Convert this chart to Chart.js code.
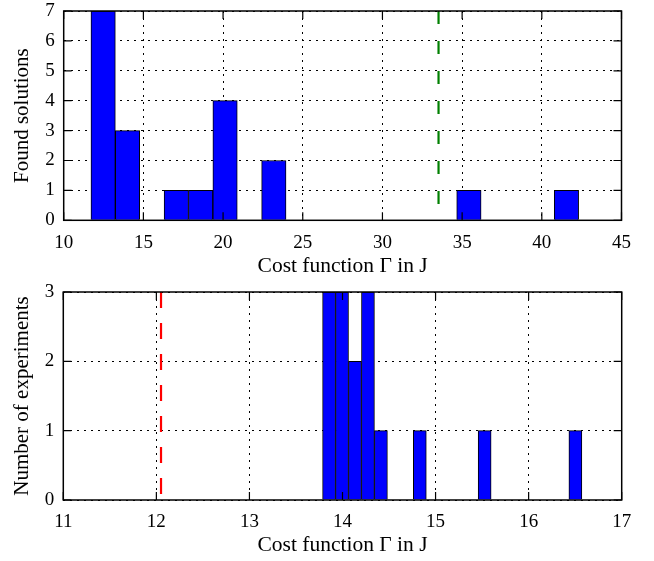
<!DOCTYPE html>
<html>
<head>
<meta charset="utf-8">
<script src="https://cdn.jsdelivr.net/npm/chart.js@4"></script>
<style>
  html, body { margin: 0; padding: 0; background: #fff; }
  #wrap { position: relative; width: 654px; height: 561px; }
  canvas { position: absolute; left: 0; }
  #top { top: 0; }
  #bottom { top: 280px; }
</style>
</head>
<body>
<div id="wrap">
  <canvas id="top" width="654" height="280"></canvas>
  <canvas id="bottom" width="654" height="281"></canvas>
</div>
<script>
// Upper histogram: found solutions per cost bin
const solBinStart = 11.71;
const solBinWidth = 1.53;
const solCounts = [7, 3, 0, 1, 1, 4, 0, 2, 0, 0, 0, 0, 0, 0, 0, 1, 0, 0, 0, 1];
const solXTicks = [10, 15, 20, 25, 30, 35, 40, 45];
const solYTicks = [0, 1, 2, 3, 4, 5, 6, 7];
const solRefLine = 33.52;   // green dashed marker

// Lower histogram: number of experiments per cost bin
const expBinStart = 13.786;
const expBinWidth = 0.1393;
const expCounts = [3, 3, 2, 3, 1, 0, 0, 1, 0, 0, 0, 0, 1, 0, 0, 0, 0, 0, 0, 1];
const expXTicks = [11, 12, 13, 14, 15, 16, 17];
const expYTicks = [0, 1, 2, 3];
const expRefLine = 12.05;   // red dashed marker

const xTitle = 'Cost function \u0393 in J';
const FONT = '"Liberation Serif", "DejaVu Serif", serif';
const TICK = 8;

Chart.defaults.font.family = FONT;
Chart.defaults.color = '#000';

// inward tick marks on all four sides + a solid frame round the plot
const frameTicks = {
  id: 'frameTicks',
  afterDraw(chart) {
    const { ctx, chartArea: a, scales: { x, y } } = chart;
    ctx.save();
    ctx.strokeStyle = '#000';
    ctx.lineWidth = 1.2;
    ctx.beginPath();
    x.ticks.forEach(t => {
      const px = x.getPixelForValue(t.value);
      ctx.moveTo(px, a.bottom); ctx.lineTo(px, a.bottom - TICK);
      ctx.moveTo(px, a.top); ctx.lineTo(px, a.top + TICK);
    });
    y.ticks.forEach(t => {
      const py = y.getPixelForValue(t.value);
      ctx.moveTo(a.left, py); ctx.lineTo(a.left + TICK, py);
      ctx.moveTo(a.right, py); ctx.lineTo(a.right - TICK, py);
    });
    ctx.stroke();
    ctx.lineWidth = 1.5;
    ctx.strokeRect(a.left, a.top, a.right - a.left, a.bottom - a.top);
    ctx.restore();
  }
};

// keep tick-label overhang from pushing the plot area around
function noOverhang(s) {
  s.paddingTop = 0; s.paddingBottom = 0;
  s.paddingLeft = 0; s.paddingRight = 0;
}

function makeHist(id, cfg) {
  const bars = cfg.counts.map((c, i) => ({ x: cfg.binStart + (i + 0.5) * cfg.binWidth, y: c }));
  const yMax = cfg.yTicks[cfg.yTicks.length - 1];

  new Chart(document.getElementById(id), {
    type: 'bar',
    data: {
      datasets: [
        {
          data: bars,
          backgroundColor: '#0000ff',
          borderColor: '#000',
          borderWidth: 1,
          barPercentage: 1,
          categoryPercentage: 1
        },
        {
          type: 'line',
          data: [{ x: cfg.refLine, y: yMax }, { x: cfg.refLine, y: 0 }],
          borderColor: cfg.refColor,
          borderWidth: 2.2,
          borderDash: cfg.refDash,
          pointRadius: 0,
          fill: false
        }
      ]
    },
    options: {
      responsive: false,
      animation: false,
      events: [],
      layout: { autoPadding: false, padding: cfg.padding },
      plugins: { legend: { display: false }, tooltip: { enabled: false } },
      scales: {
        x: {
          type: 'linear',
          offset: false,
          min: cfg.xTicks[0],
          max: cfg.xTicks[cfg.xTicks.length - 1],
          z: 1,
          afterBuildTicks: s => { s.ticks = cfg.xTicks.map(v => ({ value: v })); },
          afterFit: s => { s.height = cfg.xHeight; noOverhang(s); },
          grid: { color: '#000', lineWidth: 1, drawTicks: false, offset: false },
          border: { display: false, dash: [2, 5] },
          ticks: { color: '#000', padding: cfg.xPad, font: { family: FONT, size: 19 }, maxRotation: 0, autoSkip: false },
          title: {
            display: true, text: xTitle, color: '#000',
            font: { family: FONT, size: 21.5 }, padding: { top: 0, bottom: cfg.titlePad }
          }
        },
        y: {
          min: 0,
          max: yMax,
          z: 1,
          afterBuildTicks: s => { s.ticks = cfg.yTicks.map(v => ({ value: v })); },
          afterFit: s => { s.width = cfg.yWidth; noOverhang(s); },
          grid: { color: '#000', lineWidth: 1, drawTicks: false },
          border: { display: false, dash: [2, 5] },
          ticks: { color: '#000', padding: 9, font: { family: FONT, size: 19 }, autoSkip: false },
          title: {
            display: true, text: cfg.yTitle, color: '#000',
            font: { family: FONT, size: 21 }, padding: 0
          }
        }
      }
    },
    plugins: [frameTicks]
  });
}

makeHist('top', {
  counts: solCounts, binStart: solBinStart, binWidth: solBinWidth,
  xTicks: solXTicks, yTicks: solYTicks,
  refLine: solRefLine, refColor: '#008000', refDash: [13, 17],
  yTitle: 'Found solutions',
  padding: { left: 9.5, right: 32.5, top: 11, bottom: 0 },
  yWidth: 54.2, xHeight: 59.7, xPad: 11, titlePad: 1
});

makeHist('bottom', {
  counts: expCounts, binStart: expBinStart, binWidth: expBinWidth,
  xTicks: expXTicks, yTicks: expYTicks,
  refLine: expRefLine, refColor: '#ff0000', refDash: [16, 15],
  yTitle: 'Number of experiments',
  padding: { left: 9.5, right: 32.3, top: 12, bottom: 0 },
  yWidth: 53.8, xHeight: 61, xPad: 11, titlePad: 3
});
</script>
</body>
</html>
